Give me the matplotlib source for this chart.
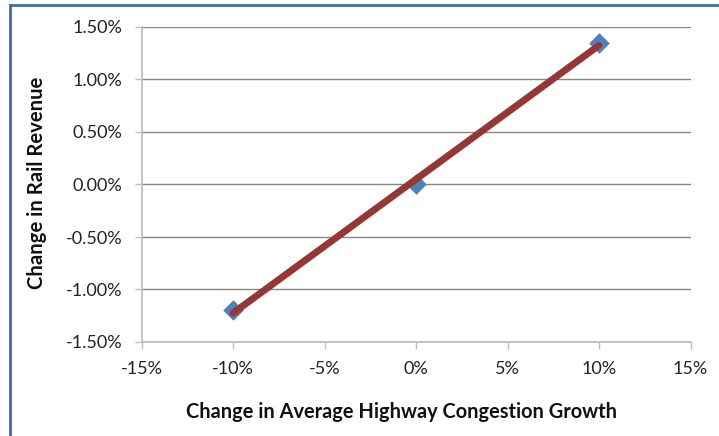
import numpy as np
import matplotlib
matplotlib.use("Agg")
import matplotlib.pyplot as plt
from matplotlib.ticker import FuncFormatter
from matplotlib.lines import Line2D

# Scenario results: congestion growth change vs. rail revenue change (fractions)
congestion_change = [-0.10, 0.00, 0.10]
revenue_change = [-0.0120, 0.0000, 0.0135]

x_ticks = [-0.15, -0.10, -0.05, 0.0, 0.05, 0.10, 0.15]
y_ticks = [-0.015, -0.010, -0.005, 0.0, 0.005, 0.010, 0.015]

plt.rcParams["font.family"] = ["Lato", "DejaVu Sans"]

fig = plt.figure(figsize=(7.19, 4.36), dpi=100)
ax = fig.add_axes([141.5 / 719, 1 - 342 / 436, 549 / 719, 315 / 436])

# Linear trendline through the scenario points
slope, intercept = np.polyfit(congestion_change, revenue_change, 1)
xs = np.array([min(congestion_change), max(congestion_change)])
ax.scatter(congestion_change, revenue_change, marker="D", s=110,
           color="#4f81bd", zorder=3, linewidths=0)
ax.plot(xs, slope * xs + intercept, color="#953735", lw=5,
        solid_capstyle="round", zorder=4)

ax.set_xlim(-0.15, 0.15)
ax.set_ylim(-0.015, 0.015)
ax.set_xticks(x_ticks)
ax.set_yticks(y_ticks)
ax.xaxis.set_major_formatter(FuncFormatter(lambda v, p: f"{v * 100:.0f}%"))
ax.yaxis.set_major_formatter(FuncFormatter(lambda v, p: f"{v * 100:.2f}%"))

ax.grid(axis="y", color="#868686", lw=1.0)
ax.set_axisbelow(True)
for s in ["top", "right"]:
    ax.spines[s].set_visible(False)
for s in ["left", "bottom"]:
    ax.spines[s].set_color("#bfbfbf")
    ax.spines[s].set_linewidth(1.3)
ax.tick_params(axis="both", colors="#bfbfbf", labelcolor="#222222",
               labelsize=13, length=5, width=1)
ax.tick_params(axis="x", pad=9)
ax.tick_params(axis="y", pad=9)

fig.text(402 / 719, 1 - 412 / 436, "Change in Average Highway Congestion Growth",
         ha="center", va="center", fontsize=14.4, fontweight="bold", color="#111111")
fig.text(37 / 719, 1 - 183 / 436, "Change in Rail Revenue", rotation=90,
         ha="center", va="center", fontsize=14.6, fontweight="bold", color="#111111")

# Chart frame: top and left edges
fig.add_artist(Line2D([9.5 / 719, 9.5 / 719], [0, 1 - 5 / 436],
                      transform=fig.transFigure, color="#3f6ea6", lw=2))
fig.add_artist(Line2D([9.5 / 719, 1], [1 - 5 / 436, 1 - 5 / 436],
                      transform=fig.transFigure, color="#3f6ea6", lw=2))

fig.savefig("out.png", dpi=100)
